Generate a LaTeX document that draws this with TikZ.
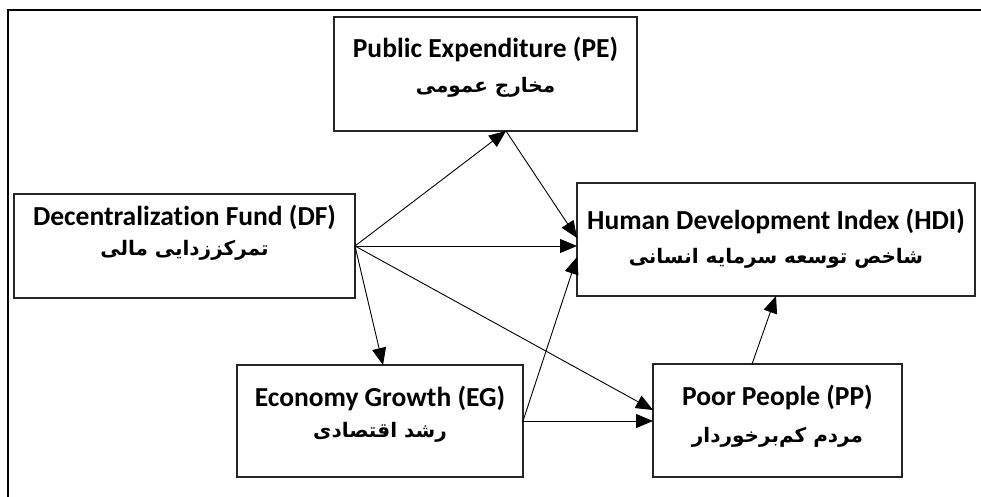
\documentclass[tikz,border=0pt]{standalone}
\usepackage{fontspec}
\setmainfont{Carlito}[Ligatures=NoCommon]
\newfontfamily\fa[Script=Arabic]{DejaVu Sans}
\TeXXeTstate=1
\usetikzlibrary{arrows.meta,calc}
\tikzset{
  box/.style={draw=black!85, line width=1.1pt, inner sep=0pt, outer sep=0pt, fill=white},
  en/.style={font=\fontsize{27.5}{30}\selectfont\bfseries, inner sep=0pt},
  faz/.style={font=\fa\fontsize{20}{24}\selectfont\bfseries, inner sep=0pt},
  conn/.style={line width=0.9pt, -{Triangle[length=17pt,width=14pt]}},
  frame/.style={line width=2.6pt}
}
\begin{document}
\begin{tikzpicture}[x=1pt,y=-1pt]
\useasboundingbox (0,0) rectangle (981,497);
\fill[white] (0,0) rectangle (981,497);
\draw[frame] (8,497) -- (8,10) -- (981,10);
% boxes
\node[box, minimum width=303pt, minimum height=114pt] (pe) at (485.5,74) {};
\node[box, minimum width=341pt, minimum height=104pt] (df) at (184.5,246) {};
\node[box, minimum width=398pt, minimum height=113pt] (hdi) at (776,239.5) {};
\node[box, minimum width=286pt, minimum height=112pt] (eg) at (380,421) {};
\node[box, minimum width=249pt, minimum height=113pt] (pp) at (777.5,420.5) {};
% texts
\node[en] (peE) at (485.5,49) {Public Expenditure (PE)};
\node[faz] (peF) at (485.5,87) {\beginR مخارج عمومی\endR};
\node[en] (dfE) at (184.5,217) {Decentralization Fund (DF)};
\node[faz] (dfF) at (184.5,250) {\beginR تمرکززدایی مالی\endR};
\node[en] (hdiE) at (776,221) {Human Development Index (HDI)};
\node[faz] (hdiF) at (776,258) {\beginR شاخص توسعه سرمایه انسانی\endR};
\node[en] (egE) at (380,398) {Economy Growth (EG)};
\node[faz] (egF) at (380,432) {\beginR رشد اقتصادی\endR};
\node[en] (ppE) at (777.5,397) {Poor People (PP)};
\node[faz] (ppF) at (777.5,437) {\beginR مردم کم‌برخوردار\endR};
% connectors
\draw[conn] (df.east) -- ([xshift=20.5pt]pe.south);
\draw[conn] ([xshift=20.5pt]pe.south) -- ([yshift=1.5pt]hdi.west);
\draw[conn] (df.east) -- (df.east -| hdi.west);
\draw[conn] (df.east) -- ([xshift=3pt]eg.north);
\draw[conn] (df.east) -- ([yshift=10.5pt]pp.west);
\draw[conn] (eg.east) -- ([yshift=-17.5pt]hdi.west);
\draw[conn] (eg.east) -- (eg.east -| pp.west);
\draw[conn] ([xshift=-25.5pt]pp.north) -- (hdi.south);
\end{tikzpicture}
\end{document}
